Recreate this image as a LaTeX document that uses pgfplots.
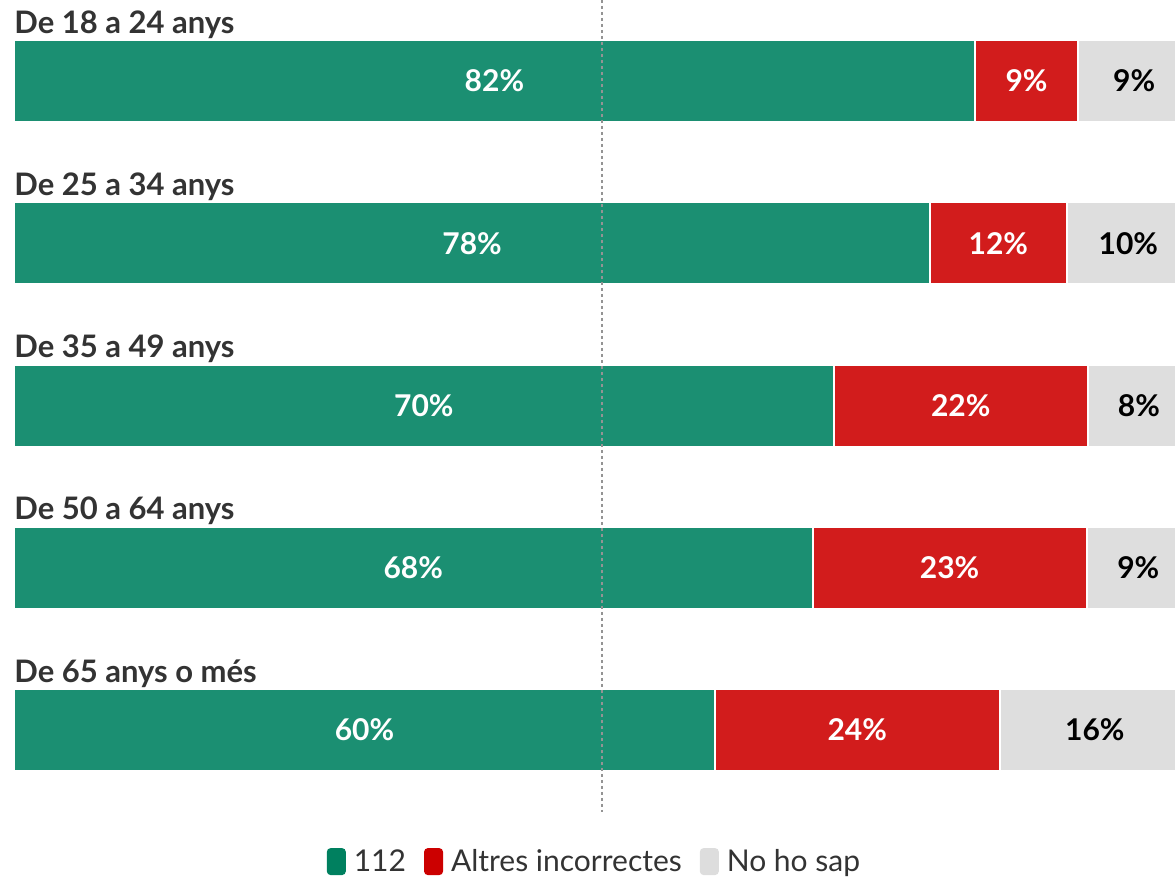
\documentclass[border=0pt]{standalone}
\usepackage{pgfplots}
\pgfplotsset{compat=1.18}
\usepackage{fontspec}
\setmainfont{Lato}
\definecolor{cgreen}{HTML}{1B8F72}
\definecolor{cred}{HTML}{D21C1C}
\definecolor{cgray}{HTML}{DEDEDE}
\definecolor{lgreen}{HTML}{00805F}
\definecolor{lred}{HTML}{CC0000}
\definecolor{lgray}{HTML}{DDDDDD}
\definecolor{ctext}{HTML}{333333}
\pgfplotsset{
  seg/.style={xbar, bar shift=0pt, bar width=41pt, stack plots=x,
    fill=#1, draw=white, line width=1pt},
  lab/.style={forget plot, draw=none, mark=none,
    nodes near coords, point meta=explicit symbolic},
}
\begin{document}
\begin{tikzpicture}
\begin{axis}[
  scale only axis, width=587.5pt, height=438.5pt,
  xmin=-1.19, xmax=98.72, ymin=-0.5, ymax=4.906, y dir=reverse,
  hide axis,
  legend columns=3,
  legend style={draw=none, fill=none, at={(0.5085,0.017)}, anchor=center,
    font=\fontsize{15}{18}\selectfont, text=ctext,
    /tikz/every even column/.append style={column sep=5pt},
    nodes={inner xsep=4pt}},
]
\addplot[seg=cgreen,
  legend image code/.code={\fill[lgreen, rounded corners=1.5pt] (0pt,-6pt) rectangle (8.5pt,6.5pt);}]
  coordinates {(81.7,0) (77.9,1) (69.7,2) (67.9,3) (59.6,4)};
\addplot[seg=cred,
  legend image code/.code={\fill[lred, rounded corners=1.5pt] (0pt,-6pt) rectangle (8.5pt,6.5pt);}]
  coordinates {(8.8,0) (11.6,1) (21.6,2) (23.3,3) (24.2,4)};
\addplot[seg=cgray,
  legend image code/.code={\fill[lgray, rounded corners=1.5pt] (0pt,-6pt) rectangle (8.5pt,6.5pt);}]
  coordinates {(9.5,0) (10.5,1) (8.7,2) (8.8,3) (16.2,4)};
\legend{112, Altres incorrectes, No ho sap}

% reference line at 50 %
\addplot[forget plot, draw=black!42, mark=none,
  line width=1pt, dash pattern=on 1.5pt off 1.5pt]
  coordinates {(50,-0.5) (50,4.505)};

% value labels
\addplot[lab,
  nodes near coords style={anchor=center, text=white, font=\bfseries\fontsize{15}{18}\selectfont}]
  coordinates {(40.85,0) [82\%] (38.95,1) [78\%] (34.85,2) [70\%] (33.95,3) [68\%] (29.8,4) [60\%]
               (86.1,0) [9\%] (83.7,1) [12\%] (80.5,2) [22\%] (79.55,3) [23\%] (71.7,4) [24\%]};
\addplot[lab,
  nodes near coords style={anchor=center, text=black, font=\bfseries\fontsize{15}{18}\selectfont}]
  coordinates {(95.25,0) [9\%] (94.75,1) [10\%] (95.65,2) [8\%] (95.6,3) [9\%] (91.9,4) [16\%]};

% category labels
\addplot[lab,
  nodes near coords style={anchor=base west, inner xsep=0pt, inner ysep=0pt, text=ctext,
    font=\bfseries\fontsize{15.5}{18}\selectfont}]
  coordinates {(0,-0.296) [De 18 a 24 anys] (0,0.704) [De 25 a 34 anys] (0,1.704) [De 35 a 49 anys]
               (0,2.704) [De 50 a 64 anys] (0,3.704) [De 65 anys o més]};
\end{axis}
\path (current axis.south west) rectangle (current axis.north east);
\end{tikzpicture}
\end{document}
